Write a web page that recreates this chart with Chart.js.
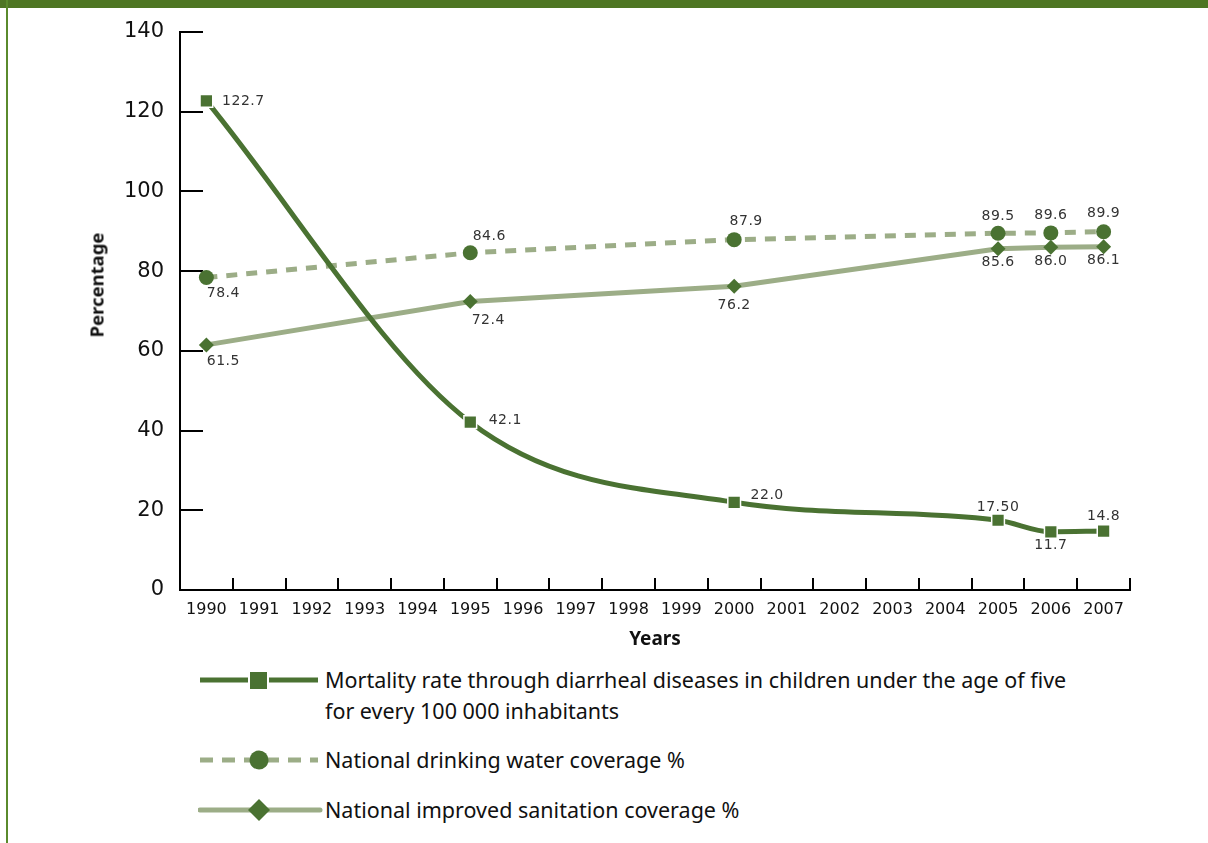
<!DOCTYPE html>
<html>
<head>
<meta charset="utf-8">
<script src="https://cdn.jsdelivr.net/npm/chart.js@4.4.1/dist/chart.umd.min.js"></script>
<style>
  html, body { margin: 0; padding: 0; background: #fff; }
  body { width: 1208px; height: 843px; position: relative; overflow: hidden; }
  #topbar { position: absolute; left: 0; top: 0; width: 1208px; height: 8px; background: #4e7623; }
  #sideline { position: absolute; left: 6px; top: 0; width: 2px; height: 843px; background: #5a8a2c; }
  #wrap { position: absolute; left: 0; top: 0; width: 1208px; height: 660px; }
  #ytitle { position: absolute; left: 96px; top: 285px; transform: translate(-50%, -50%) rotate(-90deg);
            font-family: "Noto Sans", sans-serif; font-weight: bold; font-size: 18.5px; color: #111; white-space: nowrap; }
  #legend { position: absolute; left: 198px; top: 664px; font-family: "Noto Sans", sans-serif; font-size: 21.5px; color: #111; }
  .row { position: absolute; left: 0; white-space: nowrap; }
  .row svg { position: absolute; left: 0; }
  .row .txt { position: absolute; left: 127px; top: 0px; line-height: 31px; }
</style>
</head>
<body>
<div id="topbar"></div>
<div id="sideline"></div>
<div id="wrap"><canvas id="chart"></canvas></div>
<div id="ytitle">Percentage</div>
<div id="legend"></div>
<script>
// Water, sanitation and child mortality, 1990-2007

const years = ['1990', '1991', '1992', '1993', '1994', '1995', '1996', '1997', '1998',
    '1999', '2000', '2001', '2002', '2003', '2004', '2005', '2006', '2007'];

// only 1990, 1995, 2000, 2005, 2006, 2007 have values
const mortality = [122.7, null, null, null, null, 42.1, null, null, null,
    null, 22.0, null, null, null, null, 17.5, 14.6, 14.8];
const water = [78.4, null, null, null, null, 84.6, null, null, null,
    null, 87.9, null, null, null, null, 89.5, 89.6, 89.9];
const sanitation = [61.5, null, null, null, null, 72.4, null, null, null,
    null, 76.2, null, null, null, null, 85.6, 86.0, 86.1];

// numbers as printed next to the points
const mortalityText = ['122.7', '42.1', '22.0', '17.50', '11.7', '14.8'];
const waterText = ['78.4', '84.6', '87.9', '89.5', '89.6', '89.9'];
const sanitationText = ['61.5', '72.4', '76.2', '85.6', '86.0', '86.1'];

const yTicks = [0, 20, 40, 60, 80, 100, 120, 140];

const seriesNames = [
    ['Mortality rate through diarrheal diseases in children under the age of five', 'for every 100 000 inhabitants'],
    ['National drinking water coverage %'],
    ['National improved sanitation coverage %']
];

const darkGreen = '#4a7232';
const lightGreen = '#9cad87';

// label placement [dx, dy] relative to each point
const mortalityPos = [[37, 0], [35, -2], [33, -7], [0, -13], [0, 14], [0, -15]];
const waterPos = [[17, 16], [19, -16], [12, -18], [0, -17], [0, -18], [0, -18]];
const sanitationPos = [[17, 16], [18, 19], [0, 19], [0, 14], [0, 14], [0, 14]];

const pointLabels = {
    id: 'pointLabels',
    afterDatasetsDraw(chart) {
        const ctx = chart.ctx;
        const sets = [[mortalityText, mortalityPos], [waterText, waterPos], [sanitationText, sanitationPos]];
        ctx.save();
        ctx.font = '14px "DejaVu Sans", sans-serif';
        ctx.fillStyle = '#333';
        ctx.textAlign = 'center';
        ctx.textBaseline = 'middle';
        if ('letterSpacing' in ctx) ctx.letterSpacing = '0.5px';
        sets.forEach(([texts, pos], i) => {
            const meta = chart.getDatasetMeta(i);
            const data = chart.data.datasets[i].data;
            let k = 0;
            meta.data.forEach((pt, j) => {
                if (data[j] === null) return;
                ctx.fillText(texts[k], pt.x + pos[k][0], pt.y + pos[k][1]);
                k++;
            });
        });
        ctx.restore();
    }
};

const ctx = document.getElementById('chart').getContext('2d');
new Chart(ctx, {
    type: 'line',
    data: {
        labels: years,
        datasets: [{
            data: mortality,
            borderColor: darkGreen,
            borderWidth: 5,
            cubicInterpolationMode: 'monotone',
            spanGaps: true,
            pointStyle: 'rect',
            pointRadius: 9,
            pointBackgroundColor: darkGreen,
            pointBorderColor: '#fff',
            pointBorderWidth: 1.5
        }, {
            data: water,
            borderColor: lightGreen,
            borderWidth: 5,
            borderDash: [11, 9],
            tension: 0,
            spanGaps: true,
            pointStyle: 'circle',
            pointRadius: 7.5,
            pointBackgroundColor: darkGreen,
            pointBorderColor: darkGreen,
            pointBorderWidth: 0
        }, {
            data: sanitation,
            borderColor: lightGreen,
            borderWidth: 5,
            tension: 0,
            spanGaps: true,
            pointStyle: 'rectRot',
            pointRadius: 7.5,
            pointBackgroundColor: darkGreen,
            pointBorderColor: darkGreen,
            pointBorderWidth: 0
        }]
    },
    options: {
        responsive: true,
        maintainAspectRatio: false,
        animation: false,
        events: [],
        layout: { padding: { top: 32, right: 78, left: 0, bottom: 0 } },
        plugins: {
            legend: { display: false },
            tooltip: { enabled: false }
        },
        scales: {
            x: {
                offset: true,
                grid: { offset: true, drawOnChartArea: false, color: '#000', lineWidth: 2, tickLength: -12 },
                border: { color: '#000', width: 2 },
                ticks: {
                    padding: 22,
                    color: '#111',
                    maxRotation: 0,
                    autoSkip: false,
                    font: { family: '"DejaVu Sans", sans-serif', size: 16 }
                },
                title: {
                    display: true,
                    text: 'Years',
                    color: '#111',
                    padding: { top: 0, bottom: 9 },
                    font: { family: '"Noto Sans", sans-serif', size: 19, weight: 'bold' }
                },
                afterFit(scale) { scale.height = 70; }
            },
            y: {
                min: 0,
                max: 140,
                afterBuildTicks(scale) { scale.ticks = yTicks.map(v => ({ value: v })); },
                grid: { drawOnChartArea: false, color: '#000', lineWidth: 2, tickLength: -23 },
                border: { color: '#000', width: 2 },
                ticks: {
                    padding: 39,
                    color: '#111',
                    font: { family: '"DejaVu Sans", sans-serif', size: 21 }
                },
                afterFit(scale) {
                    // the big label padding would otherwise push the plot area down
                    scale.width = 180;
                    scale.paddingTop = 0;
                    scale.paddingBottom = 0;
                }
            }
        }
    },
    plugins: [pointLabels]
});

// legend built from the series names
const legend = document.getElementById('legend');
const rowTops = [0, 80, 130];
const symbols = [
    '<line x1="2" y1="16" x2="120" y2="16" stroke="' + darkGreen + '" stroke-width="5"/>' +
    '<rect x="51" y="7" width="19" height="19" fill="' + darkGreen + '" stroke="#fff" stroke-width="2"/>',
    '<line x1="2" y1="16" x2="120" y2="16" stroke="' + lightGreen + '" stroke-width="5" stroke-dasharray="13 9"/>' +
    '<circle cx="61" cy="16" r="9.5" fill="' + darkGreen + '"/>',
    '<line x1="2" y1="16" x2="122" y2="16" stroke="' + lightGreen + '" stroke-width="5" stroke-linecap="round"/>' +
    '<polygon points="61,5 72,16 61,27 50,16" fill="' + darkGreen + '"/>'
];
seriesNames.forEach((lines, i) => {
    const row = document.createElement('div');
    row.className = 'row';
    row.style.top = rowTops[i] + 'px';
    row.innerHTML = '<svg width="126" height="32">' + symbols[i] + '</svg>' +
        '<div class="txt">' + lines.join('<br>') + '</div>';
    legend.appendChild(row);
});
</script>
</body>
</html>
